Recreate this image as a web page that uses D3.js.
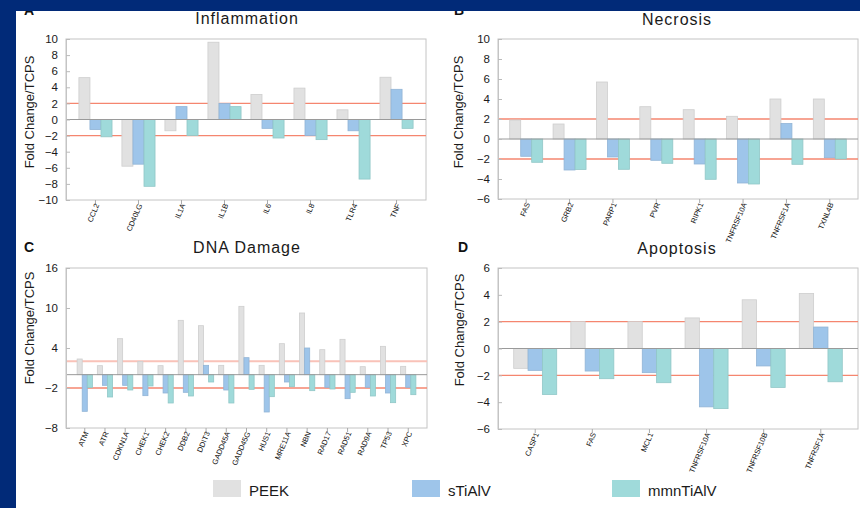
<!DOCTYPE html>
<html>
<head>
<meta charset="utf-8">
<title>Fold change / TCPS</title>
<script src="https://cdnjs.cloudflare.com/ajax/libs/d3/7.8.5/d3.min.js"></script>
<style>
  body { margin: 0; background: #fff; }
  svg text { font-family: "Liberation Sans", Arial, sans-serif; }
</style>
</head>
<body>
<script type="text/javascript">
	var width  = 860;
	var height = 508;

	var seriesNames  = ["PEEK", "sTiAlV", "mmnTiAlV"];
	var seriesColors = ["#e1e1e1", "#9ec5ea", "#9fdada"];

	// A - Inflammation
	var inflGenes = ["CCL2", "CD40LG", "IL1A", "IL1B", "IL6", "IL8", "TLR4", "TNF"];
	var inflPEEK  = [5.2, -5.8, -1.4, 9.6, 3.1, 3.9, 1.2, 5.25];
	var inflSTi   = [-1.25, -5.55, 1.6, 2.0, -1.1, -2.0, -1.4, 3.75];
	var inflMmn   = [-2.15, -8.3, -2.0, 1.6, -2.3, -2.5, -7.4, -1.1];
	var inflTicks = [-10, -8, -6, -4, -2, 0, 2, 4, 6, 8, 10];

	// B - Necrosis
	var necGenes = ["FAS", "GRB2", "PARP1", "PVR", "RIPK1", "TNFRSF10A", "TNFRSF1A", "TXNL4B"];
	var necPEEK  = [1.9, 1.5, 5.7, 3.23, 2.93, 2.27, 4.0, 4.0];
	var necSTi   = [-1.73, -3.1, -1.8, -2.13, -2.5, -4.4, 1.55, -1.87];
	var necMmn   = [-2.33, -3.05, -3.03, -2.43, -4.03, -4.5, -2.53, -2.0];
	var necTicks = [-6, -4, -2, 0, 2, 4, 6, 8, 10];

	// C - DNA Damage
	var dnaGenes = ["ATM", "ATR", "CDKN1A", "CHEK1", "CHEK2", "DDB2", "DDIT3", "GADD45A", "GADD45G",
	                "HUS1", "MRE11A", "NBN", "RAD17", "RAD51", "RAD9A", "TP53", "XPC"];
	var dnaPEEK  = [2.35, 1.35, 5.4, 2.0, 1.35, 8.15, 7.35, 1.4, 10.25, 1.4, 4.65, 9.25, 3.75, 5.3, 1.2, 4.25, 1.25];
	var dnaSTi   = [-5.5, -1.6, -1.6, -3.15, -2.75, -2.65, 1.4, -2.3, 2.55, -5.6, -1.1, 4.0, -1.9, -3.6, -1.9, -2.75, -1.9];
	var dnaMmn   = [-1.95, -3.35, -2.3, -1.7, -4.25, -3.2, -1.1, -4.25, -2.2, -3.3, -1.8, -2.4, -2.15, -2.65, -3.2, -4.2, -3.0];
	var dnaTicks = [-8, -2, 4, 10, 16];

	// D - Apoptosis
	var apoGenes = ["CASP1", "FAS", "MCL1", "TNFRSF10A", "TNFRSF10B", "TNFRSF1A"];
	var apoPEEK  = [-1.48, 2.0, 2.0, 2.28, 3.63, 4.1];
	var apoSTi   = [-1.63, -1.68, -1.8, -4.35, -1.3, 1.6];
	var apoMmn   = [-3.43, -2.25, -2.55, -4.48, -2.9, -2.48];
	var apoTicks = [-6, -4, -2, 0, 2, 4, 6];

	var svg = d3.select("body").append("svg")
		.attr("width", width)
		.attr("height", height);

	svg.append("rect").attr("width", width).attr("height", height).attr("fill", "#fff");

	function drawPanel(p) {
		var g = svg.append("g");

		var yScale = d3.scaleLinear().domain([p.ticks[0], p.ticks[p.ticks.length - 1]]).range([p.bottom, p.top]);
		var xScale = d3.scaleBand().domain(p.genes).range([p.left, p.right])
			.paddingInner(p.pi).paddingOuter(p.po);
		var sScale = d3.scaleBand().domain(seriesNames).range([0, xScale.bandwidth()]);
		var cScale = d3.scaleOrdinal().domain(seriesNames).range(seriesColors);

		// frame
		g.append("rect")
			.attr("x", p.left).attr("y", p.top)
			.attr("width", p.right - p.left).attr("height", p.bottom - p.top)
			.attr("fill", "none").attr("stroke", "#c4c4c4").attr("stroke-width", 1);

		// +/- 2 fold reference lines
		g.selectAll(".ref").data([2, -2]).enter().append("line")
			.attr("class", "ref")
			.attr("x1", p.left).attr("x2", p.right)
			.attr("y1", d => yScale(d)).attr("y2", d => yScale(d))
			.attr("stroke", (d, i) => (p.softTop && i == 0) ? "#f9c2b8" : "#f5866f")
			.attr("stroke-width", (d, i) => (p.softTop && i == 0) ? 2 : 1.4);

		// bars
		var rows = p.genes.map((gene, i) => ({ gene: gene, vals: [p.peek[i], p.sti[i], p.mmn[i]] }));
		var groups = g.selectAll(".grp").data(rows).enter().append("g")
			.attr("class", "grp")
			.attr("transform", d => "translate(" + xScale(d.gene) + ",0)");
		groups.selectAll("rect")
			.data(d => d.vals.map((v, k) => ({ key: seriesNames[k], v: v })))
			.enter().append("rect")
			.attr("x", d => sScale(d.key))
			.attr("width", sScale.bandwidth())
			.attr("y", d => yScale(Math.max(0, d.v)))
			.attr("height", d => Math.abs(yScale(d.v) - yScale(0)))
			.attr("fill", d => cScale(d.key))
			.attr("stroke", d => d3.color(cScale(d.key)).darker(0.25))
			.attr("stroke-width", 0.8);

		// zero line
		g.append("line")
			.attr("x1", p.left).attr("x2", p.right)
			.attr("y1", yScale(0)).attr("y2", yScale(0))
			.attr("stroke", "#9a9a9a").attr("stroke-width", 1);

		// y axis
		var yAxis = g.append("g")
			.attr("transform", "translate(" + p.left + ",0)")
			.call(d3.axisLeft(yScale).tickValues(p.ticks).tickSizeInner(-4).tickSizeOuter(0).tickPadding(8));
		yAxis.select(".domain").attr("stroke", "#c4c4c4");
		yAxis.selectAll(".tick line").attr("stroke", "#bbb");
		yAxis.selectAll("text").attr("font-size", 11.5).attr("fill", "#1a1a1a")
			.attr("font-family", "Liberation Sans, Arial, sans-serif");

		// x axis
		var xAxis = g.append("g")
			.attr("transform", "translate(0," + p.bottom + ")")
			.call(d3.axisBottom(xScale).tickSizeInner(4).tickSizeOuter(0));
		xAxis.select(".domain").remove();
		xAxis.selectAll(".tick line").attr("stroke", "#aaa");
		xAxis.selectAll("text")
			.attr("x", 0).attr("y", 0).attr("dy", null)
			.attr("transform", "translate(4,5) rotate(-67)")
			.attr("text-anchor", "end")
			.attr("font-size", 7.5).attr("fill", "#111")
			.attr("font-family", "Liberation Sans, Arial, sans-serif");

		// title
		g.append("text")
			.attr("x", p.titleX).attr("y", p.titleY)
			.attr("text-anchor", "middle")
			.attr("font-size", 16).attr("letter-spacing", 1).attr("fill", "#1a1a1a")
			.text(p.title);

		// panel letter
		g.append("text")
			.attr("x", p.letterX).attr("y", p.letterY)
			.attr("text-anchor", "middle")
			.attr("font-size", 14).attr("font-weight", "bold").attr("fill", "#111")
			.text(p.letter);

		// y label
		g.append("text")
			.attr("transform", "translate(" + p.labelX + "," + p.labelY + ") rotate(-90)")
			.attr("text-anchor", "middle")
			.attr("font-size", 13).attr("fill", "#1a1a1a")
			.text("Fold Change/TCPS");
	}

	drawPanel({ genes: inflGenes, peek: inflPEEK, sti: inflSTi, mmn: inflMmn, ticks: inflTicks,
		left: 66, right: 426, top: 39, bottom: 200, pi: 0.23, po: 0.3,
		title: "Inflammation", titleX: 247, titleY: 24, letter: "A", letterX: 29, letterY: 15,
		labelX: 34, labelY: 112 });

	drawPanel({ genes: necGenes, peek: necPEEK, sti: necSTi, mmn: necMmn, ticks: necTicks,
		left: 498, right: 858, top: 39, bottom: 199, pi: 0.24, po: 0.27,
		title: "Necrosis", titleX: 677, titleY: 25, letter: "B", letterX: 459, letterY: 15,
		labelX: 463, labelY: 112 });

	drawPanel({ genes: dnaGenes, peek: dnaPEEK, sti: dnaSTi, mmn: dnaMmn, ticks: dnaTicks,
		left: 66, right: 427, top: 268, bottom: 428, pi: 0.245, po: 0.55, softTop: true,
		title: "DNA Damage", titleX: 247, titleY: 253, letter: "C", letterX: 29, letterY: 252,
		labelX: 34, labelY: 328 });

	drawPanel({ genes: apoGenes, peek: apoPEEK, sti: apoSTi, mmn: apoMmn, ticks: apoTicks,
		left: 498, right: 858, top: 268, bottom: 429, pi: 0.247, po: 0.275,
		title: "Apoptosis", titleX: 677, titleY: 254, letter: "D", letterX: 463, letterY: 252,
		labelX: 464, labelY: 330 });

	// legend
	var legendX = [213, 412, 612];
	var legend = svg.append("g");
	var items = legend.selectAll("g").data(seriesNames).enter().append("g")
		.attr("transform", (d, i) => "translate(" + legendX[i] + ",480)");
	items.append("rect")
		.attr("width", 28).attr("height", 17)
		.attr("fill", (d, i) => seriesColors[i]);
	items.append("text")
		.attr("x", 36).attr("y", 16)
		.attr("font-size", 15).attr("fill", "#1a1a1a")
		.text(d => d);

	// slide frame (dark band top and left)
	svg.append("rect").attr("x", 0).attr("y", 0).attr("width", width).attr("height", 11).attr("fill", "#012a78");
	svg.append("rect").attr("x", 0).attr("y", 0).attr("width", 16).attr("height", height).attr("fill", "#012a78");
</script>
</body>
</html>
